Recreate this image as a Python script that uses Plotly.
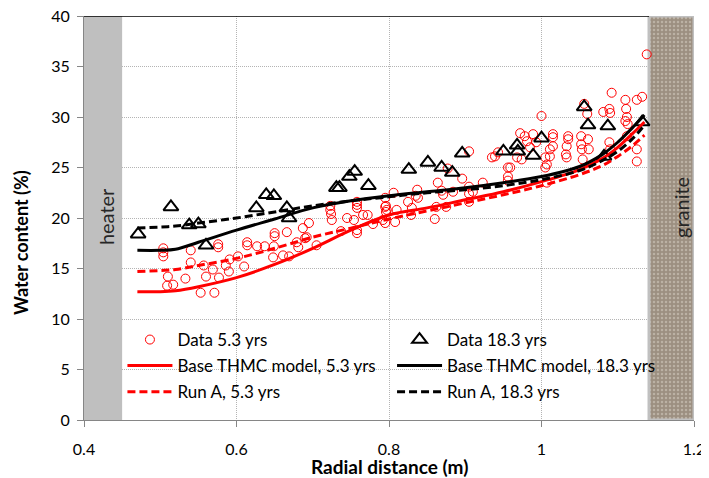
import plotly.graph_objects as go

# ---------------- data ----------------
d53_x = [0.504,0.504,0.504,0.540,0.540,0.510,0.509,0.517,0.533,0.553,0.571,0.560,0.557,0.569,0.577,0.576,0.576,0.586,0.591,0.590,
         0.602,0.610,0.614,0.614,0.627,0.637,0.650,0.650,0.649,0.648,0.661,0.669,0.666,0.679,0.681,0.687,0.690,0.692,0.695,0.705,
         0.723,0.723,0.724,0.725,0.737,0.745,0.754,0.758,0.758,0.758,0.758,0.758,0.766,0.772,0.779,0.795,0.796,0.796,
         0.795,0.797,0.792,0.795,0.806,0.810,0.808,0.825,0.830,0.829,0.837,0.835,0.838,0.860,0.862,0.864,0.869,0.871,0.875,0.877,
         0.884,0.896,0.905,0.905,0.905,0.905,0.910,0.923,0.935,0.939,0.943,0.956,0.956,0.956,0.968,
         0.978,0.981,0.989,0.993,0.974,1.000,1.005,1.007,1.011,1.005,1.007,1.015,1.015,1.015,1.035,1.035,1.033,1.032,1.033,
         1.052,1.052,1.053,1.061,1.062,1.056,1.060,1.092,1.081,1.089,1.090,1.089,1.090,1.110,1.111,1.112,1.110,1.113,1.112,
         1.125,1.132,1.125,1.125,1.138,0.959,0.972,0.985,1.011,1.054]
d53_y = [17.0,16.6,16.2,16.8,15.6,14.2,13.3,13.4,14.0,12.6,12.6,14.2,15.3,14.9,14.1,17.4,17.1,15.3,15.9,14.7,
         16.2,15.2,17.6,17.3,17.2,17.2,18.5,18.2,17.2,16.1,16.3,16.2,18.6,17.6,17.1,19.0,18.0,18.1,19.5,17.3,
         21.2,20.8,20.4,19.8,18.7,20.0,19.8,21.6,21.3,21.0,18.8,18.5,20.3,20.3,19.4,22.0,21.2,20.6,
         21.1,20.8,19.8,19.5,22.5,20.8,19.6,21.6,21.0,20.3,22.8,22.2,22.0,19.9,21.1,23.5,22.7,22.3,21.1,24.9,
         22.6,23.9,26.6,23.1,22.4,21.6,22.6,23.5,26.0,26.1,26.5,25.0,24.1,23.7,26.0,
         28.1,27.6,28.3,27.5,25.8,30.1,26.0,25.3,26.1,25.0,23.5,28.3,28.0,27.1,28.1,27.8,27.1,26.3,26.0,
         28.1,27.3,26.8,27.8,26.8,31.3,30.3,32.4,30.5,30.8,30.4,27.5,26.8,31.7,30.8,30.0,29.6,29.3,28.1,
         31.7,32.0,26.8,25.6,36.2,25.0,28.4,27.0,26.8,25.8]

d183_x = [0.471,0.514,0.538,0.550,0.560,0.626,0.639,0.649,0.666,0.669,0.731,0.735,0.748,0.755,0.773,
          0.826,0.851,0.869,0.883,0.896,0.950,0.968,0.969,0.989,1.000,1.056,1.061,1.087,1.082,1.132]
d183_y = [18.4,21.1,19.3,19.4,17.3,21.0,22.3,22.2,21.0,20.0,23.0,23.0,24.1,24.6,23.2,
          24.8,25.5,25.0,24.5,26.4,26.6,27.2,26.6,26.2,27.9,31.0,29.2,29.1,26.1,29.5]

line_x   = [0.47, 0.50, 0.52, 0.55, 0.60, 0.65, 0.70, 0.75, 0.80, 0.85, 0.90, 0.95, 1.00, 1.05, 1.08, 1.10, 1.12, 1.135]
base53   = [12.7, 12.7, 12.8, 13.2, 14.1, 15.4, 17.0, 18.8, 20.3, 21.0, 21.8, 22.6, 23.6, 24.8, 25.9, 27.0, 28.4, 29.5]
base183  = [16.8, 16.8, 16.9, 17.6, 18.8, 19.9, 21.0, 21.7, 22.2, 22.6, 23.0, 23.5, 24.1, 25.1, 26.3, 27.5, 29.0, 30.2]
runA53   = [14.7, 14.8, 14.9, 15.3, 16.0, 17.0, 18.1, 19.0, 19.9, 20.7, 21.5, 22.3, 23.2, 24.3, 25.2, 26.1, 27.2, 28.2]
runA183  = [19.0, 19.1, 19.2, 19.5, 20.0, 20.6, 21.2, 21.7, 22.1, 22.5, 22.8, 23.2, 23.8, 24.7, 25.7, 26.6, 27.9, 29.2]

x_ticks = [0.4, 0.6, 0.8, 1.0, 1.2]
x_tick_labels = ["0.4", "0.6", "0.8", "1", "1.2"]
y_ticks = [0, 5, 10, 15, 20, 25, 30, 35, 40]

heater_x = [0.4, 0.45]
granite_x = [1.141, 1.2]

FONT = "Lato"
RED = "#ff0000"

fig = go.Figure()

fig.add_trace(go.Scatter(x=d53_x, y=d53_y, mode="markers", name="Data 5.3 yrs",
                         marker=dict(symbol="circle-open", size=9, color=RED, line=dict(width=1, color=RED)),
                         legend="legend"))
fig.add_trace(go.Scatter(x=d183_x, y=d183_y, mode="markers", name="Data 18.3 yrs",
                         marker=dict(symbol="triangle-up-open", size=13, color="black", line=dict(width=2, color="black")),
                         legend="legend2"))
fig.add_trace(go.Scatter(x=line_x, y=base53, mode="lines", name="Base THMC model, 5.3 yrs",
                         line=dict(color=RED, width=3, shape="spline"), legend="legend3"))
fig.add_trace(go.Scatter(x=line_x, y=base183, mode="lines", name="Base THMC model, 18.3 yrs",
                         line=dict(color="black", width=3, shape="spline"), legend="legend4"))
fig.add_trace(go.Scatter(x=line_x, y=runA53, mode="lines", name="Run A, 5.3 yrs",
                         line=dict(color=RED, width=3, shape="spline", dash="8px,4px"), legend="legend5"))
fig.add_trace(go.Scatter(x=line_x, y=runA183, mode="lines", name="Run A, 18.3 yrs",
                         line=dict(color="black", width=3, shape="spline", dash="8px,4px"), legend="legend6"))

# granite block (textured)
fig.add_trace(go.Bar(x=[(granite_x[0] + granite_x[1]) / 2], y=[40], base=0, width=granite_x[1] - granite_x[0],
                     marker=dict(color="#9c8f81", line=dict(color="#c0c0c0", width=3),
                                 pattern=dict(shape=".", fgcolor="#d9d1c6", bgcolor="#9c8f81", size=4, solidity=0.3)),
                     showlegend=False, hoverinfo="skip"))

fig.add_shape(type="rect", x0=heater_x[0], x1=heater_x[1], y0=0, y1=40, xref="x", yref="y",
              fillcolor="#bfbfbf", line=dict(width=0), layer="above")
fig.add_shape(type="line", x0=0.4, x1=granite_x[0], y0=40, y1=40, xref="x", yref="y",
              line=dict(color="black", width=1.5), layer="above")

fig.add_annotation(x=0.429, y=20.1, xref="x", yref="y", text="heater", textangle=-90, showarrow=False,
                   font=dict(family=FONT, size=20, color="#262626"))
fig.add_annotation(x=1.183, y=21.0, xref="x", yref="y", text="granite", textangle=-90, showarrow=False,
                   font=dict(family=FONT, size=20, color="#262626"))

# axis titles
fig.add_annotation(x=-0.1034, y=0.4406, xref="paper", yref="paper", text="<b>Water content (%)</b>",
                   textangle=-90, showarrow=False, xanchor="center", yanchor="middle",
                   font=dict(family=FONT, size=18, color="black"))
fig.add_annotation(x=0.5, y=-0.114, xref="paper", yref="paper", text="<b>Radial distance (m)</b>",
                   showarrow=False, xanchor="center", yanchor="middle",
                   font=dict(family=FONT, size=19, color="black"))

def leg(x, y):
    return dict(orientation="v", x=x, xanchor="left", y=y, yanchor="middle",
                bgcolor="rgba(0,0,0,0)", itemwidth=45,
                font=dict(family=FONT, size=17, color="black"))

c1, c2 = 0.063, 0.505
r1, r2, r3 = 0.198, 0.134, 0.069

fig.update_layout(
    width=709, height=478,
    margin=dict(l=76, r=23, t=8, b=66),
    paper_bgcolor="white", plot_bgcolor="white",
    font=dict(family=FONT, color="black"),
    barmode="overlay",
    legend=leg(c1, r1), legend2=leg(c2, r1),
    legend3=leg(c1, r2), legend4=leg(c2, r2),
    legend5=leg(c1, r3), legend6=leg(c2, r3),
    xaxis=dict(range=[0.4, 1.2], tickvals=x_ticks, ticktext=x_tick_labels,
               showgrid=True, gridcolor="#b4b4b4", griddash="1px,1px", gridwidth=1,
               showline=True, linecolor="#868686", linewidth=1,
               ticks="outside", ticklen=6, tickcolor="#868686", ticklabelstandoff=9,
               ticklabeloverflow="allow",
               tickfont=dict(family=FONT, size=16, color="black"),
               zeroline=False, automargin=False),
    yaxis=dict(range=[0, 40], tickvals=y_ticks,
               showgrid=True, gridcolor="#b4b4b4", griddash="1px,1px", gridwidth=1,
               showline=True, linecolor="#868686", linewidth=1,
               ticks="outside", ticklen=6, tickcolor="#868686", ticklabelstandoff=4,
               ticklabeloverflow="allow",
               tickfont=dict(family=FONT, size=16, color="black"),
               zeroline=False, automargin=False),
)

fig.write_html("out.html")
